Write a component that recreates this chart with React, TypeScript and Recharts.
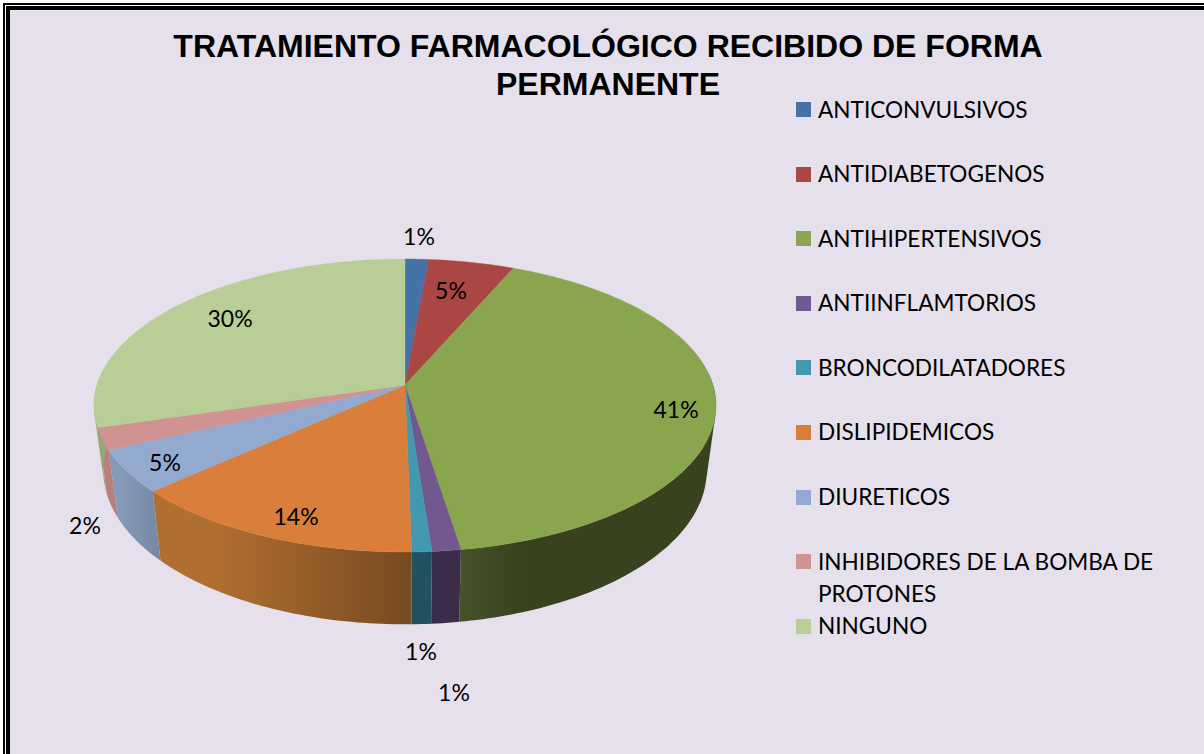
import { PieChart, Pie, Legend } from "recharts";

const NAMES = [
	"ANTICONVULSIVOS",
	"ANTIDIABETOGENOS",
	"ANTIHIPERTENSIVOS",
	"ANTIINFLAMTORIOS",
	"BRONCODILATADORES",
	"DISLIPIDEMICOS",
	"DIURETICOS",
	"INHIBIDORES DE LA BOMBA DE PROTONES",
	"NINGUNO",
];
const VALUES = [1.4, 5.1, 41, 1.3, 0.9, 13.6, 4.7, 2.4, 29.6];
const TOP_COLORS = ["#4572a7", "#aa4643", "#89a54e", "#71588f", "#4198af", "#d97f3b", "#93a9cf", "#d19392", "#b9cd96"];
const WALL_LEFT = ["#2d4a6e", "#7a3230", "#46532a", "#3b2c49", "#22525f", "#b06e30", "#8699b8", "#bb8280", "#94a878"];
const WALL_RIGHT = ["#2d4a6e", "#7a3230", "#38421e", "#3b2c49", "#22525f", "#774a20", "#7488a4", "#b57c7a", "#94a878"];
const TITLE_LINES = ["TRATAMIENTO FARMACOLÓGICO RECIBIDO DE FORMA", "PERMANENTE"];

const rows = NAMES.map((name, i) => ({ name, value: VALUES[i], fill: TOP_COLORS[i] }));

// where each percentage sits, relative to the pie apex
const LABEL_OFFSETS = [
	[14, -149],
	[46, -95],
	[271, 24],
	[49, 307],
	[16, 266],
	[-109, 131],
	[-240, 77],
	[-320, 140],
	[-175, -67],
];

// the tilted disc: a circle seen in perspective, so the apex is off the ellipse centre
const PIE_CX = 405;
const PIE_CY = 385;
const RX = 308;
const RY = 143.6;
const PERSPECTIVE = 0.14;
const WALL_DROP = 64;
const WALL_SCALE_X = 0.97;
const WALL_SCALE_Y = 1.05;

function project(deg: number, cx: number, cy: number, sx = 1, sy = 1) {
	const a = (deg * Math.PI) / 180;
	const d = 1 + PERSPECTIVE * Math.sin(a);
	return [cx + (sx * RX * Math.cos(a)) / d, cy - (sy * RY * Math.sin(a)) / d];
}

function arcPoints(start: number, end: number, cx: number, cy: number) {
	const steps = Math.max(2, Math.ceil(Math.abs(end - start)));
	const pts: number[][] = [];
	for (let i = 0; i <= steps; i++) {
		pts.push(project(start + ((end - start) * i) / steps, cx, cy));
	}
	return pts;
}

const toPath = (pts: number[][]) =>
	pts.map((p, i) => `${i ? "L" : "M"}${p[0].toFixed(2)} ${p[1].toFixed(2)}`).join(" ") + " Z";

function signedArea(pts: number[][]) {
	let sum = 0;
	pts.forEach((p, i) => {
		const q = pts[(i + 1) % pts.length];
		sum += p[0] * q[1] - q[0] * p[1];
	});
	return sum;
}

function TopSlice(props: any) {
	const { cx, cy, startAngle, endAngle, fill } = props;
	const pts = [[cx, cy], ...arcPoints(startAngle, endAngle, cx, cy)];
	return <path d={toPath(pts)} fill={fill} stroke={fill} strokeWidth={0.4} />;
}

// side wall, swept one degree at a time; the back of the disc hides everything else
function WallSlice(props: any) {
	const { cx, cy, startAngle, endAngle, index } = props;
	const steps = Math.max(1, Math.ceil(Math.abs(endAngle - startAngle)));
	const quads: number[][][] = [];
	for (let i = 0; i < steps; i++) {
		const a = startAngle + ((endAngle - startAngle) * i) / steps;
		const b = startAngle + ((endAngle - startAngle) * (i + 1)) / steps;
		if (Math.sin((a * Math.PI) / 180) > 0.1 && Math.sin((b * Math.PI) / 180) > 0.1) continue;
		const quad = [
			project(a, cx, cy),
			project(b, cx, cy),
			project(b, cx, cy + WALL_DROP, WALL_SCALE_X, WALL_SCALE_Y),
			project(a, cx, cy + WALL_DROP, WALL_SCALE_X, WALL_SCALE_Y),
		];
		quads.push(signedArea(quad) < 0 ? quad.reverse() : quad);
	}
	if (!quads.length) return <g />;
	const xs = quads.flat().map((p) => p[0]);
	const id = `wall-${index}`;
	return (
		<g>
			<defs>
				<linearGradient
					id={id}
					gradientUnits="userSpaceOnUse"
					x1={Math.min(...xs)}
					x2={Math.max(...xs)}
					y1={0}
					y2={0}
				>
					<stop offset="0" stopColor={WALL_LEFT[index]} />
					<stop offset="0.25" stopColor={index === 2 ? WALL_RIGHT[index] : WALL_LEFT[index]} />
					<stop offset="1" stopColor={WALL_RIGHT[index]} />
				</linearGradient>
			</defs>
			<path d={quads.map(toPath).join(" ")} fill={`url(#${id})`} />
		</g>
	);
}

function renderLabel(props: any) {
	const { cx, cy, index, value } = props;
	const [dx, dy] = LABEL_OFFSETS[index];
	return (
		<text
			x={cx + dx}
			y={cy + dy}
			textAnchor="middle"
			dominantBaseline="central"
			fontSize={23}
			fill="#000"
			fontFamily="Lato"
		>
			{Math.round(value)}%
		</text>
	);
}

function LegendList({ payload }: any) {
	// both pies report their slices, keep one entry per name
	const seen = new Set<string>();
	const items = (payload || []).filter((entry: any) => {
		if (seen.has(entry.value)) return false;
		seen.add(entry.value);
		return true;
	});
	return (
		<div style={{ fontFamily: "Lato", fontSize: 22.6, lineHeight: "32px", color: "#000" }}>
			{items.map((entry: any) => (
				<div key={entry.value} style={{ position: "relative", height: 64.6, paddingLeft: 22 }}>
					<span
						style={{
							position: "absolute",
							left: 0,
							top: 8.5,
							width: 15,
							height: 15,
							background: entry.color,
						}}
					/>
					{entry.value}
				</div>
			))}
		</div>
	);
}

export default function App() {
	return (
		<div style={{ position: "absolute", left: 0, top: 0, width: 1204, height: 754, background: "#fff", overflow: "hidden" }}>
			<div style={{ position: "absolute", left: 3, top: 3, width: 1201, height: 751, borderLeft: "2px solid #000", borderTop: "2px solid #000", boxSizing: "border-box" }} />
			<div style={{ position: "absolute", left: 6, top: 6, width: 1198, height: 748, borderLeft: "4px solid #000", borderTop: "4px solid #000", background: "#e6e0ec", boxSizing: "border-box" }} />
			<div style={{ position: "absolute", left: 0, top: 0 }}>
				<PieChart width={1204} height={754} margin={{ top: 0, right: 0, bottom: 0, left: 0 }}>
					<Pie
						data={rows}
						dataKey="value"
						nameKey="name"
						cx={PIE_CX}
						cy={PIE_CY}
						outerRadius={140}
						startAngle={90}
						endAngle={-270}
						shape={WallSlice}
						legendType="none"
						label={false}
						labelLine={false}
						isAnimationActive={false}
					/>
					<Pie
						data={rows}
						dataKey="value"
						nameKey="name"
						cx={PIE_CX}
						cy={PIE_CY}
						outerRadius={140}
						startAngle={90}
						endAngle={-270}
						shape={TopSlice}
						label={renderLabel}
						labelLine={false}
						isAnimationActive={false}
					/>
					<text x={608} y={57} textAnchor="middle" fontFamily="Liberation Sans" fontWeight="bold" fontSize={32} fill="#000">
						{TITLE_LINES[0]}
					</text>
					<text x={608} y={95} textAnchor="middle" fontFamily="Liberation Sans" fontWeight="bold" fontSize={32} fill="#000">
						{TITLE_LINES[1]}
					</text>
					<Legend
						content={<LegendList />}
						layout="vertical"
						wrapperStyle={{ position: "absolute", left: 796, top: 93.5, width: 362, bottom: "auto", right: "auto" }}
					/>
				</PieChart>
			</div>
		</div>
	);
}
